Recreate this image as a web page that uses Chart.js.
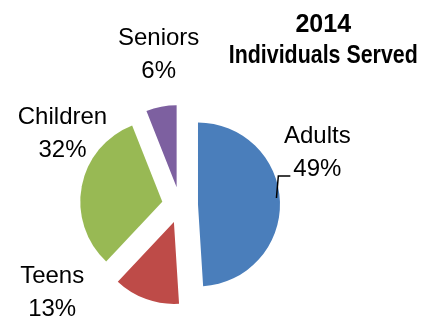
<!DOCTYPE html>
<html>
<head>
<meta charset="utf-8">
<script src="https://cdn.jsdelivr.net/npm/chart.js@4.4.1/dist/chart.umd.min.js"></script>
<style>
  html, body { margin: 0; padding: 0; background: #fff; }
</style>
</head>
<body>
<canvas id="myChart" width="431" height="324"></canvas>
<script>
const categories = ["Adults", "Teens", "Children", "Seniors"];
const percents = [49, 13, 32, 6];
const colores = ["#4a7ebb", "#be4b48", "#98b954", "#7d60a0"];
const titleLines = ["2014", "Individuals Served"];

// where each label sits: angle from 12 o'clock (deg) and distance in radii
const labelAngle = [68.5, 236, 302, 352];
const labelDist = [1.8, 1.88, 1.69, 1.87];
const leader = [true, false, false, false];

// how far every slice is pulled out of the pie (px)
const explodeBy = 18;

// chart.js "offset" also grows the big slices, so move the arcs ourselves
const explode = {
  id: "explode",
  afterDatasetsUpdate(chart) {
    const arcs = chart.getDatasetMeta(0).data;
    arcs.forEach((arc) => {
      const mid = (arc.startAngle + arc.endAngle) / 2;
      arc.x += Math.cos(mid) * explodeBy;
      arc.y += Math.sin(mid) * explodeBy;
    });
  }
};

const sliceLabels = {
  id: "sliceLabels",
  afterDatasetsDraw(chart) {
    const ctx = chart.ctx;
    const area = chart.chartArea;
    const cx = (area.left + area.right) / 2;
    const cy = (area.top + area.bottom) / 2;
    const arcs = chart.getDatasetMeta(0).data;
    ctx.save();
    ctx.font = '24px "Liberation Sans", Arial, sans-serif';
    ctx.fillStyle = "#000";
    ctx.textAlign = "center";
    ctx.textBaseline = "alphabetic";
    arcs.forEach((arc, i) => {
      const p = arc.getProps(["x", "y", "outerRadius", "startAngle", "endAngle"], true);
      const a = (labelAngle[i] - 90) * Math.PI / 180;
      const d = p.outerRadius * labelDist[i];
      const lx = cx + Math.cos(a) * d;
      const ly = cy + Math.sin(a) * d;
      ctx.fillText(categories[i], lx, ly - 8);
      ctx.fillText(percents[i] + "%", lx, ly + 25);

      if (leader[i]) {
        const mid = (p.startAngle + p.endAngle) / 2 - 0.05;
        const sx = p.x + Math.cos(mid) * p.outerRadius * 0.96;
        const sy = p.y + Math.sin(mid) * p.outerRadius * 0.96;
        ctx.beginPath();
        ctx.strokeStyle = "#000";
        ctx.lineWidth = 1.5;
        ctx.moveTo(sx, sy);
        ctx.lineTo(lx - 39, ly + 25);
        ctx.lineTo(lx - 27, ly + 25);
        ctx.stroke();
      }
    });

    // title, top right (long line squeezed to the narrow width of the original)
    ctx.font = 'bold 25px "Liberation Sans", Arial, sans-serif';
    ctx.textAlign = "center";
    const tx = chart.width * 0.75;
    [32, 63].forEach((yy, k) => {
      const w = ctx.measureText(titleLines[k]).width;
      const sc = Math.min(1, 189 / w);
      ctx.save();
      ctx.translate(tx, yy);
      ctx.scale(sc, 1);
      ctx.fillText(titleLines[k], 0, 0);
      ctx.restore();
    });
    ctx.restore();
  }
};

const divChart = document.getElementById("myChart");

const myChart = new Chart(divChart, {
  type: "pie",
  data: {
    labels: categories,
    datasets: [
      {
        data: percents,
        backgroundColor: colores,
        borderWidth: 0,
      },
    ],
  },
  options: {
    responsive: false,
    animation: false,
    devicePixelRatio: 1,
    layout: {
      padding: { top: 123, bottom: 37, left: 98, right: 169 },
    },
    plugins: {
      legend: { display: false },
      tooltip: { enabled: false },
      title: { display: false },
    },
  },
  plugins: [explode, sliceLabels],
});
</script>
</body>
</html>
